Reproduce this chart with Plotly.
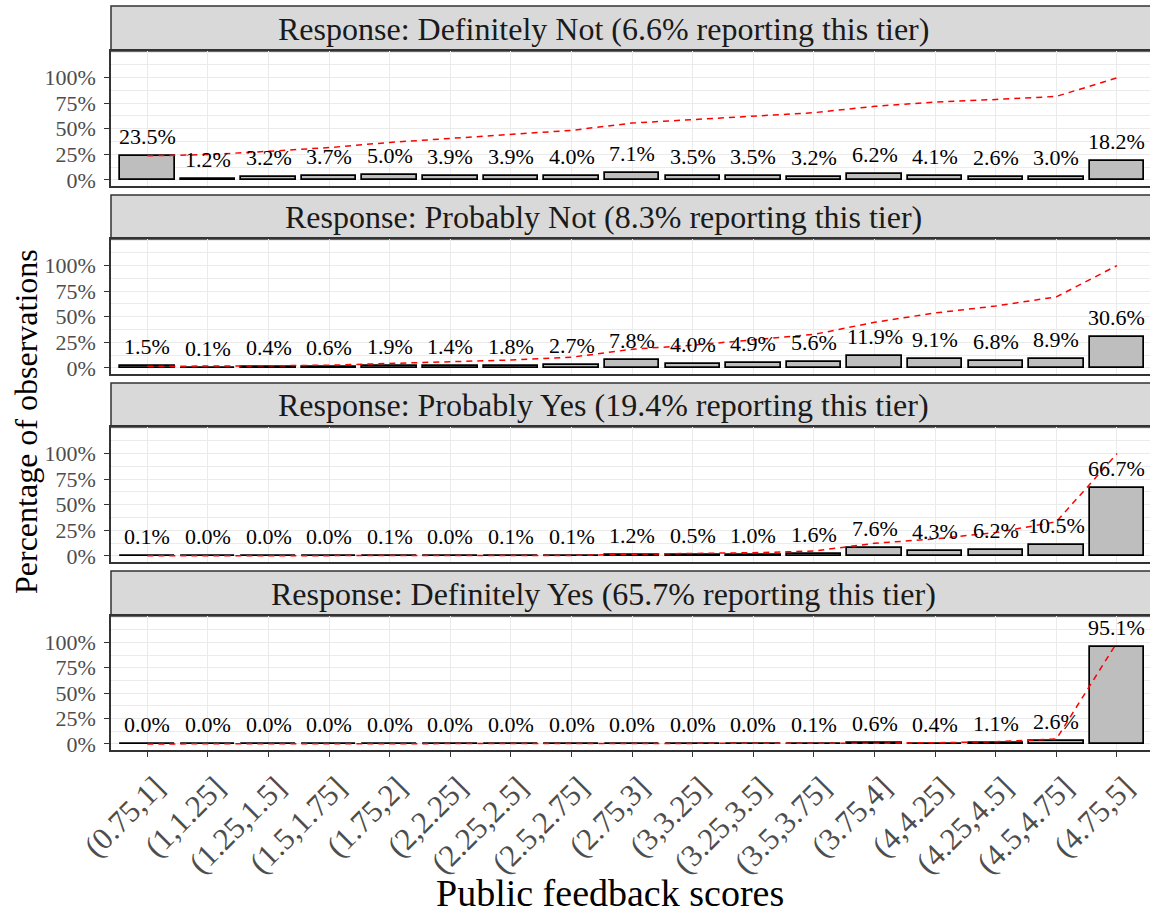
import numpy as np
import plotly.graph_objects as go
from plotly.subplots import make_subplots

# ---------------- data ----------------
categories = ["(0.75,1]", "(1,1.25]", "(1.25,1.5]", "(1.5,1.75]", "(1.75,2]",
              "(2,2.25]", "(2.25,2.5]", "(2.5,2.75]", "(2.75,3]", "(3,3.25]",
              "(3.25,3.5]", "(3.5,3.75]", "(3.75,4]", "(4,4.25]", "(4.25,4.5]",
              "(4.5,4.75]", "(4.75,5]"]

tiers = ["Definitely Not", "Probably Not", "Probably Yes", "Definitely Yes"]
tier_share = [6.6, 8.3, 19.4, 65.7]

pct_definitely_not = [23.5, 1.2, 3.2, 3.7, 5.0, 3.9, 3.9, 4.0, 7.1, 3.5, 3.5, 3.2, 6.2, 4.1, 2.6, 3.0, 18.2]
pct_probably_not = [1.5, 0.1, 0.4, 0.6, 1.9, 1.4, 1.8, 2.7, 7.8, 4.0, 4.9, 5.6, 11.9, 9.1, 6.8, 8.9, 30.6]
pct_probably_yes = [0.1, 0.0, 0.0, 0.0, 0.1, 0.0, 0.1, 0.1, 1.2, 0.5, 1.0, 1.6, 7.6, 4.3, 6.2, 10.5, 66.7]
pct_definitely_yes = [0.0, 0.0, 0.0, 0.0, 0.0, 0.0, 0.0, 0.0, 0.0, 0.0, 0.0, 0.1, 0.6, 0.4, 1.1, 2.6, 95.1]

series = [pct_definitely_not, pct_probably_not, pct_probably_yes, pct_definitely_yes]

y_ticks = [0, 0.25, 0.5, 0.75, 1.0]
y_tick_text = ["0%", "25%", "50%", "75%", "100%"]

# ---------------- layout constants (pixels) ----------------
W, H = 1150, 916
ML, MR, MT, MB = 111, 0, 6, 166
AREA_TOP, AREA_BOT = MT, H - MB
AREA_H = AREA_BOT - AREA_TOP
# (strip_top, plot_top, plot_bottom) for each panel
panels_px = [(6, 51, 186), (195, 239, 374), (383, 427, 562), (571, 616, 750)]


def py(px):
    return (AREA_BOT - px) / AREA_H


def pxx(px):
    return (px - ML) / (W - ML - MR)


FONT = "Liberation Serif"
GRID = "#EBEBEB"
BORDER = "#333333"

fig = make_subplots(rows=4, cols=1)
annotations = []
shapes = []

for i, vals in enumerate(series):
    r = i + 1
    v = np.array(vals, dtype=float) / 100.0
    fig.add_trace(go.Bar(
        x=categories, y=np.maximum(v, 0.0008), width=0.9,
        marker=dict(color="#BEBEBE", line=dict(color="black", width=1.7)),
        showlegend=False, hoverinfo="skip"), row=r, col=1)
    fig.add_trace(go.Scatter(
        x=categories, y=np.cumsum(v), mode="lines",
        line=dict(color="#FF0000", width=1.5, dash="6px,5px"),
        showlegend=False, hoverinfo="skip"), row=r, col=1)

    xa = "x" if r == 1 else f"x{r}"
    ya = "y" if r == 1 else f"y{r}"
    for c, val in zip(categories, vals):
        annotations.append(dict(
            x=c, y=val / 100.0, xref=xa, yref=ya, text=f"{val:.1f}%",
            showarrow=False, yanchor="bottom", yshift=5,
            font=dict(family=FONT, size=22, color="black")))

    st, pt, pb = panels_px[i]
    # strip
    shapes.append(dict(type="rect", xref="paper", yref="paper",
                       x0=0, x1=1.05, y0=py(pt), y1=py(st),
                       fillcolor="#D9D9D9", line=dict(color=BORDER, width=1.5),
                       layer="below"))
    annotations.append(dict(
        x=pxx(603), y=(py(pt) + py(st)) / 2, xref="paper", yref="paper",
        text=f"Response: {tiers[i]} ({tier_share[i]:.1f}% reporting this tier)",
        showarrow=False, xanchor="center", yanchor="middle",
        font=dict(family=FONT, size=32, color="#1A1A1A")))

    last = (r == 4)
    fig.update_xaxes(
        row=r, col=1, domain=[0, 1], range=[-0.6, 16.545],
        type="category", categoryorder="array", categoryarray=categories,
        showgrid=True, gridcolor=GRID, gridwidth=1.2,
        showline=True, linecolor=BORDER, linewidth=1.5, mirror=True,
        ticks="outside" if last else "", ticklen=5, tickcolor=BORDER, tickwidth=1.2,
        showticklabels=last, tickangle=-45, ticklabelshift=8, ticklabelstandoff=0,
        tickfont=dict(family=FONT, size=31, color="#4D4D4D"),
        zeroline=False, automargin=False)
    fig.update_yaxes(
        row=r, col=1, domain=[py(pb), py(pt)], range=[-0.06, 1.26],
        tickvals=y_ticks, ticktext=y_tick_text,
        showgrid=True, gridcolor=GRID, gridwidth=1.2,
        minor=dict(dtick=0.125, tick0=0, showgrid=True, gridcolor=GRID, gridwidth=0.7, ticks=""),
        showline=True, linecolor=BORDER, linewidth=1.5, mirror=False,
        ticks="outside", ticklen=5, tickcolor=BORDER, tickwidth=1.2,
        ticklabelstandoff=4,
        tickfont=dict(family=FONT, size=22, color="#4D4D4D"),
        zeroline=False, automargin=False)

# axis titles
annotations.append(dict(
    x=pxx(26), y=py(422), xref="paper", yref="paper",
    text="Percentage of observations", textangle=-90, showarrow=False,
    xanchor="center", yanchor="middle",
    font=dict(family=FONT, size=32, color="black")))
annotations.append(dict(
    x=pxx(610), y=py(893), xref="paper", yref="paper",
    text="Public feedback scores", showarrow=False,
    xanchor="center", yanchor="middle",
    font=dict(family=FONT, size=38, color="black")))

fig.update_layout(
    template="none",
    width=W, height=H,
    margin=dict(l=ML, r=MR, t=MT, b=MB, autoexpand=False),
    paper_bgcolor="white", plot_bgcolor="white",
    bargap=0, showlegend=False,
    annotations=annotations, shapes=shapes,
    font=dict(family=FONT),
)

fig.write_html("out.html",
               config={"displayModeBar": False},
               post_script="document.body.style.margin='0';document.body.style.padding='0';")
